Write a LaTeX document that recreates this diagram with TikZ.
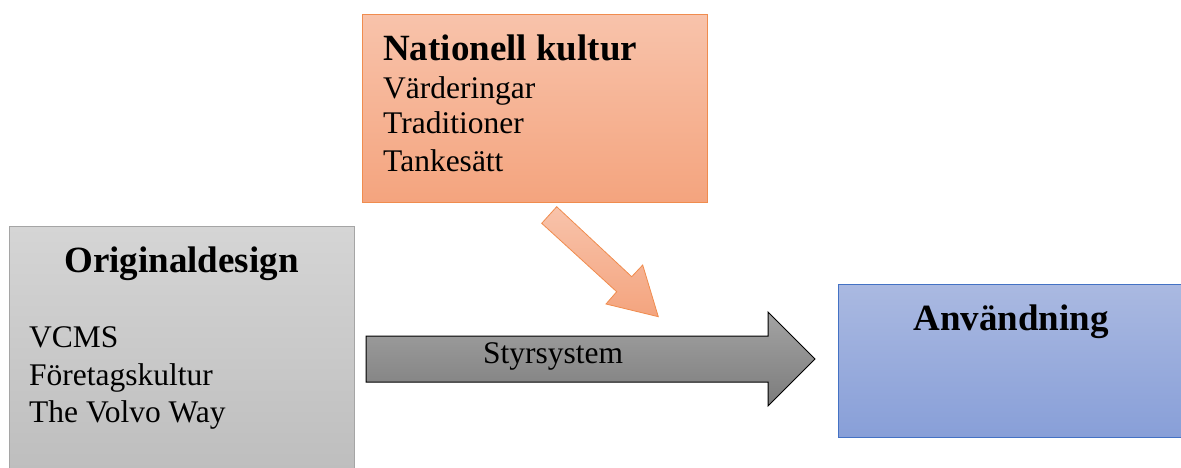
\documentclass[tikz,border=0pt]{standalone}
\usepackage{fontspec}
\setmainfont{Liberation Serif}
\definecolor{orTop}{HTML}{F8C3AB}
\definecolor{orBot}{HTML}{F4A47E}
\definecolor{orLine}{HTML}{F08C4E}
\definecolor{grTop}{HTML}{D5D5D5}
\definecolor{grBot}{HTML}{BDBDBD}
\definecolor{grLine}{HTML}{A5A5A5}
\definecolor{blTop}{HTML}{AAB9E1}
\definecolor{blBot}{HTML}{889FD8}
\definecolor{blLine}{HTML}{4472C4}
\definecolor{arTop}{HTML}{A3A3A3}
\definecolor{arBot}{HTML}{7C7C7C}
\begin{document}
\begin{tikzpicture}[x=1pt,y=-1pt,
  reg/.style={font=\fontsize{31.5}{36}\selectfont, anchor=base west, inner sep=0pt},
  hd/.style={font=\fontsize{37}{42}\selectfont\bfseries, anchor=base, inner sep=0pt},
  boxline/.style={line width=1pt}]
\useasboundingbox (0,0) rectangle (1181,467);
\clip (0,0) rectangle (1181,467);
% boxes
\path[boxline, draw=orLine, top color=orTop, bottom color=orBot] (362,14) rectangle (707,202);
\path[boxline, draw=grLine, top color=grTop, bottom color=grBot] (9,226) rectangle (354,480);
\path[boxline, draw=blLine, top color=blTop, bottom color=blBot] (838,284) rectangle (1190,437);
% gray block arrow
\path[line width=1pt, draw=black, top color=arTop, bottom color=arBot]
  (366,336) -- (768,336) -- (768,312) -- (815,359) -- (768,406) -- (768,382) -- (366,382) -- cycle;
% orange block arrow
\path[line width=0.8pt, draw=orLine, top color=orTop, bottom color=orBot, line join=miter]
  (541.7,223.3) -- (616.7,291.7) -- (606,304) -- (658.3,316.7) -- (642.7,265) -- (631.7,276.7) -- (556.7,206.7) -- cycle;
% texts
\node[hd, anchor=base west] (nk) at (383,60) {Nationell kultur};
\node[reg] (v) at (383,98) {Värderingar};
\node[reg] (t) at (383,133) {Traditioner};
\node[reg] (tk) at (383,171) {Tankesätt};
\node[hd] (od) at (181.5,272) {Originaldesign};
\node[reg] (vc) at (29,347) {VCMS};
\node[reg] (fk) at (29,385) {Företagskultur};
\node[reg] (vw) at (29,422) {The Volvo Way};
\node[reg] (ss) at (483,363) {Styrsystem};
\node[hd] (an) at (1011,330) {Användning};
\end{tikzpicture}
\end{document}
